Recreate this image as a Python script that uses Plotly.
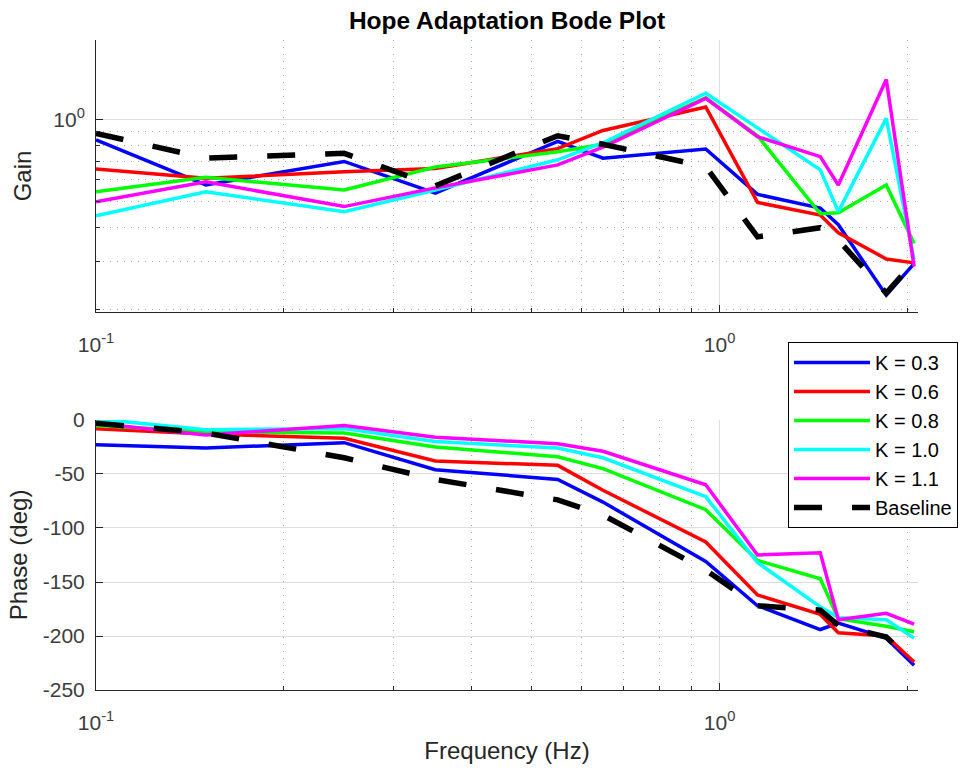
import numpy as np
import plotly.graph_objects as go

# ---------------- data ----------------
freq = [0.1, 0.15, 0.25, 0.35, 0.55, 0.65, 0.95, 1.15, 1.45, 1.55, 1.85, 2.05]

series_names = ["K = 0.3", "K = 0.6", "K = 0.8", "K = 1.0", "K = 1.1", "Baseline"]

gain_k03 = [0.84, 0.574, 0.70, 0.536, 0.83, 0.72, 0.778, 0.53, 0.472, 0.41, 0.226, 0.295]
gain_k06 = [0.657, 0.607, 0.642, 0.66, 0.78, 0.91, 1.11, 0.495, 0.445, 0.383, 0.307, 0.297]
gain_k08 = [0.542, 0.612, 0.55, 0.668, 0.76, 0.81, 1.20, 0.87, 0.45, 0.454, 0.574, 0.35]
gain_k10 = [0.442, 0.542, 0.458, 0.55, 0.71, 0.82, 1.246, 0.93, 0.652, 0.458, 1.008, 0.305]
gain_k11 = [0.498, 0.59, 0.478, 0.56, 0.68, 0.79, 1.194, 0.863, 0.729, 0.574, 1.40, 0.288]
gain_base = [0.888, 0.72, 0.75, 0.57, 0.87, 0.81, 0.67, 0.37, 0.40, 0.36, 0.23, 0.30]

phase_k03 = [-23, -26, -21, -46, -55, -76, -131, -172, -194, -188, -202, -227]
phase_k06 = [-8, -13, -17, -38, -42, -65, -113, -162, -180, -197, -200, -224]
phase_k08 = [-5, -11, -12, -25, -34, -45, -83, -130, -147, -184, -191, -196]
phase_k10 = [1, -9, -8, -20, -26, -35, -71, -132, -173, -183, -185, -202]
phase_k11 = [-3, -14, -5, -16, -22, -29, -60, -125, -123, -185, -179, -189]
phase_base = [-3, -12, -35, -55, -74, -88, -139, -172, -176, -190, -201, -225]

x_major_ticks = [0.1, 1.0]
x_major_text = ["10<sup>-1</sup>", "10<sup>0</sup>"]
x_minor_ticks = [0.2, 0.3, 0.4, 0.5, 0.6, 0.7, 0.8, 0.9, 2.0]
gain_major_ticks = [1.0]
gain_major_text = ["10<sup>0</sup>"]
gain_minor_ticks = [0.2, 0.3, 0.4, 0.5, 0.6, 0.7, 0.8, 0.9]
phase_ticks = [0, -50, -100, -150, -200, -250]
phase_text = ["0", "-50", "-100", "-150", "-200", "-250"]

# ---------------- styling ----------------
colors = ["#0000ff", "#ff0000", "#00ff00", "#00ffff", "#ff00ff", "#000000"]
gains = [gain_k03, gain_k06, gain_k08, gain_k10, gain_k11, gain_base]
phases = [phase_k03, phase_k06, phase_k08, phase_k10, phase_k11, phase_base]

FONT = "Liberation Sans, Arial, Helvetica, sans-serif"
AX = "#262626"
TICK = "#3c3c3c"
GRID = "#dedede"
MINOR = "#a8a8a8"

fig = go.Figure()
for i, name in enumerate(series_names):
    is_base = name == "Baseline"
    line = dict(color=colors[i], width=5.5 if is_base else 3.5)
    if is_base:
        line["dash"] = "28px,30px"
    fig.add_trace(go.Scatter(x=freq, y=gains[i], mode="lines", name=name,
                             line=line, showlegend=False, xaxis="x", yaxis="y"))
for i, name in enumerate(series_names):
    is_base = name == "Baseline"
    line = dict(color=colors[i], width=5.5 if is_base else 3.5)
    if is_base:
        line["dash"] = "28px,30px"
    fig.add_trace(go.Scatter(x=freq, y=phases[i], mode="lines", name=name,
                             line=line, showlegend=True, xaxis="x2", yaxis="y2"))

xr = [np.log10(0.1), np.log10(2.08)]
DOT = "1px,6px"

def xaxis_common(anchor):
    return dict(
        type="log", range=xr, anchor=anchor,
        tickmode="array", tickvals=x_major_ticks, ticktext=x_major_text,
        ticks="inside", ticklen=7, tickcolor=AX, tickwidth=1,
        showline=True, linecolor=AX, linewidth=1, mirror=False,
        showgrid=True, gridcolor=GRID, gridwidth=1,
        zeroline=False,
        tickfont=dict(family=FONT, size=21, color=TICK),
        ticklabelstandoff=14,
        minor=dict(tickmode="array", tickvals=x_minor_ticks, ticks="inside",
                   ticklen=4, tickcolor=AX, showgrid=True, gridcolor=MINOR,
                   griddash=DOT, gridwidth=1),
    )

xa1 = xaxis_common("y")
xa1["domain"] = [0, 1]
xa2 = xaxis_common("y2")
xa2["domain"] = [0, 1]
xa2["title"] = dict(text="Frequency (Hz)", font=dict(family=FONT, size=24, color=AX), standoff=8)

fig.update_layout(
    width=961, height=769,
    margin=dict(l=96, r=43, t=40, b=79, autoexpand=False),
    paper_bgcolor="white", plot_bgcolor="white",
    font=dict(family=FONT, color=AX),
    title=dict(text="<b>Hope Adaptation Bode Plot</b>", x=0.5, xref="paper",
               xanchor="center", y=1 - 20 / 769, yref="container", yanchor="middle",
               font=dict(family=FONT, size=24.5, color="#000000")),
    xaxis=xa1,
    xaxis2=xa2,
    yaxis=dict(
        type="log", range=[np.log10(0.196), np.log10(1.955)], domain=[0.5815, 1], anchor="x",
        tickmode="array", tickvals=gain_major_ticks, ticktext=gain_major_text,
        ticks="inside", ticklen=7, tickcolor=AX,
        showline=True, linecolor=AX, linewidth=1, mirror=False,
        showgrid=True, gridcolor=GRID, zeroline=False,
        tickfont=dict(family=FONT, size=21, color=TICK),
        ticklabelstandoff=6,
        title=dict(text="Gain", font=dict(family=FONT, size=24, color=AX), standoff=14),
        minor=dict(tickmode="array", tickvals=gain_minor_ticks, ticks="inside",
                   ticklen=4, tickcolor=AX, showgrid=True, gridcolor=MINOR,
                   griddash=DOT, gridwidth=1),
    ),
    yaxis2=dict(
        range=[-250, 0], domain=[0, 0.4154], anchor="x2",
        tickmode="array", tickvals=phase_ticks, ticktext=phase_text,
        ticks="inside", ticklen=7, tickcolor=AX,
        showline=True, linecolor=AX, linewidth=1, mirror=False,
        showgrid=True, gridcolor=GRID, zeroline=False,
        tickfont=dict(family=FONT, size=21, color=TICK),
        ticklabelstandoff=6,
        title=dict(text="Phase (deg)", font=dict(family=FONT, size=24, color=AX), standoff=8),
    ),
    legend=dict(
        x=(788 - 96) / 822, y=(690 - 342) / 650, xanchor="left", yanchor="top",
        xref="paper", yref="paper",
        bgcolor="white", bordercolor="#000000", borderwidth=1,
        font=dict(family=FONT, size=20, color="#000000"),
        tracegroupgap=0, itemwidth=76,
    ),
)

fig.write_html("out.html")
